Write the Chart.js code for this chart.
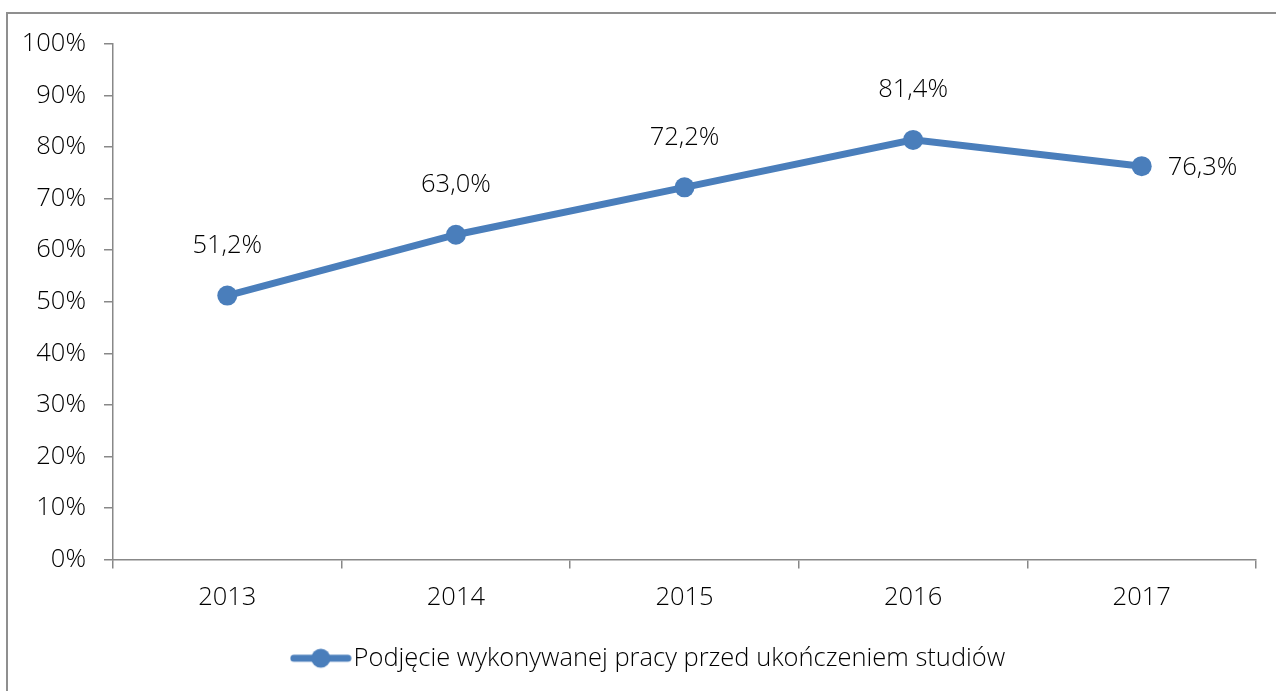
<!DOCTYPE html>
<html>
<head>
<meta charset="utf-8">
<script src="https://cdn.jsdelivr.net/npm/chart.js@4.4.1/dist/chart.umd.min.js"></script>
<style>
  html, body { margin: 0; padding: 0; background: #fff; overflow: hidden; }
  #wrap { position: absolute; left: 0; top: 0; width: 1276px; height: 691px; }
  #frame { position: absolute; left: 6px; top: 12px; width: 1290px; height: 700px;
           border-left: 2px solid #8f8f8f; border-top: 2px solid #8f8f8f; box-sizing: border-box; pointer-events: none; }
</style>
</head>
<body>
<div id="wrap">
  <canvas id="c" width="1276" height="691"></canvas>
  <div id="frame"></div>
</div>
<script>
const categories = ['2013', '2014', '2015', '2016', '2017'];
const seriesName = 'Podjęcie wykonywanej pracy przed ukończeniem studiów';
const seriesValues = [51.2, 63.0, 72.2, 81.4, 76.3];
const yTicks = [0, 10, 20, 30, 40, 50, 60, 70, 80, 90, 100];

const BLUE = '#4a7ebb';
const AXIS = '#888888';
const FONT = '"Open Sans", "Noto Sans", sans-serif';
const FSIZE = 25.5;
const TXT = '#000';

// legend marker: line with a dot
const mk = document.createElement('canvas');
mk.width = 62; mk.height = 22;
(function(){
  const g = mk.getContext('2d');
  g.strokeStyle = BLUE; g.lineWidth = 7; g.lineCap = 'round';
  g.beginPath(); g.moveTo(4, 11); g.lineTo(58, 11); g.stroke();
  g.fillStyle = BLUE; g.beginPath(); g.arc(31, 11, 9.5, 0, Math.PI * 2); g.fill();
})();

const fmt = v => v.toFixed(1).replace('.', ',') + '%';

const labelPlugin = {
  id: 'valueLabels',
  afterDatasetsDraw(chart) {
    const ctx = chart.ctx;
    const meta = chart.getDatasetMeta(0);
    ctx.save();
    ctx.font = '300 ' + FSIZE + 'px ' + FONT;
    ctx.fillStyle = TXT;
    meta.data.forEach((pt, i) => {
      const txt = fmt(seriesValues[i]);
      if (i === seriesValues.length - 1) {
        ctx.textAlign = 'left'; ctx.textBaseline = 'middle';
        ctx.fillText(txt, pt.x + 26, pt.y + 2);
      } else {
        ctx.textAlign = 'center'; ctx.textBaseline = 'middle';
        ctx.fillText(txt, pt.x, pt.y - 50);
      }
    });
    ctx.restore();
  }
};

const legendShift = {
  id: 'legendShift',
  afterLayout(chart) {
    if (chart.legend) { chart.legend.left += 25; chart.legend.right += 25; }
  }
};

new Chart(document.getElementById('c'), {
  type: 'line',
  data: {
    labels: categories,
    datasets: [{
      label: seriesName,
      data: seriesValues,
      borderColor: BLUE,
      backgroundColor: BLUE,
      borderWidth: 7,
      pointRadius: 10,
      pointHoverRadius: 10,
      pointBackgroundColor: BLUE,
      pointBorderColor: BLUE,
      pointBorderWidth: 0,
      tension: 0,
      pointStyle: 'circle'
    }]
  },
  options: {
    responsive: false,
    animation: false,
    events: [],
    layout: { padding: { left: 0, right: 20, top: 44, bottom: 10 } },
    scales: {
      x: {
        type: 'category',
        offset: true,
        afterFit(scale) { scale.height = 67; },
        grid: { offset: true, drawOnChartArea: false, drawTicks: true, tickLength: 9, color: AXIS, lineWidth: 1.5 },
        border: { color: AXIS, width: 1.5 },
        ticks: { color: TXT, font: { family: FONT, size: FSIZE, weight: 300 }, padding: 14 }
      },
      y: {
        min: 0, max: 100,
        afterFit(scale) { scale.width = 113; },
        afterBuildTicks(scale) { scale.ticks = yTicks.map(v => ({ value: v })); },
        grid: { drawOnChartArea: false, drawTicks: true, tickLength: 9, color: AXIS, lineWidth: 1.5 },
        border: { color: AXIS, width: 1.5 },
        ticks: { color: TXT, font: { family: FONT, size: FSIZE, weight: 300 }, padding: 18,
                 callback: v => v + '%' }
      }
    },
    plugins: {
      tooltip: { enabled: false },
      legend: {
        position: 'bottom',
        labels: {
          usePointStyle: true,
          pointStyle: mk,
          pointStyleWidth: 40,
          color: TXT,
          font: { family: FONT, size: FSIZE, weight: 300 },
          padding: 19,
          generateLabels(chart) {
            return [{ text: seriesName, pointStyle: mk, fillStyle: BLUE, strokeStyle: BLUE, lineWidth: 0, hidden: false, datasetIndex: 0, fontColor: TXT }];
          }
        }
      }
    }
  },
  plugins: [labelPlugin, legendShift]
});
</script>
</body>
</html>
